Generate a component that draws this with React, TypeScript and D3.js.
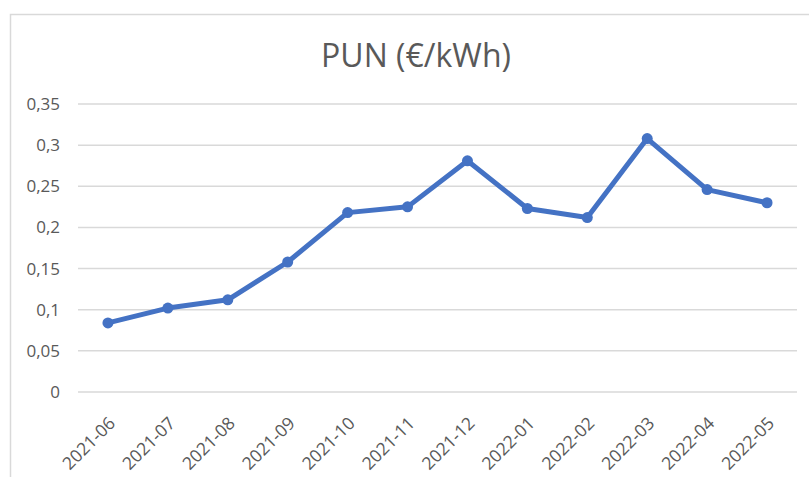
import React from "react";
import * as d3 from "d3";

const categories = ["2021-06","2021-07","2021-08","2021-09","2021-10","2021-11","2021-12","2022-01","2022-02","2022-03","2022-04","2022-05"];
const values = [0.084,0.102,0.112,0.158,0.218,0.225,0.281,0.223,0.212,0.308,0.246,0.230];
const yTicks = [0,0.05,0.1,0.15,0.2,0.25,0.3,0.35];
const title = "PUN (€/kWh)";

const W = 809, H = 477;
const left = 78, right = 797, top = 104, bottom = 392;
const color = "#4472C4";
const textColor = "#595959";
const font = "'Open Sans', sans-serif";

export default function App() {
  const x = d3.scaleBand<string>().domain(categories).range([left, right]);
  const y = d3.scaleLinear().domain([0, 0.35]).range([bottom, top]);
  const fmt = (v: number) => String(+v.toFixed(2)).replace(".", ",");
  const line = d3.line<number>()
    .x((_, i) => (x(categories[i]) as number) + x.bandwidth() / 2)
    .y(d => y(d));
  return (
    <svg width={W} height={H} style={{ position: "absolute", left: 0, top: 0, background: "#fff" }}>
      <rect x={0} y={0} width={W} height={H} fill="#fff" />
      <path d={`M10.5,${H} V14.5 H${W}`} fill="none" stroke="#d9d9d9" strokeWidth={1.5} />
      <text x={416} y={67} textAnchor="middle" fontFamily={font} fontSize={32} fill={textColor}>{title}</text>
      {yTicks.map(t => (
        <g key={t}>
          <line x1={left} x2={right} y1={y(t)} y2={y(t)} stroke="#d9d9d9" strokeWidth={1.5} />
          <text x={60} y={y(t)} dy="0.35em" textAnchor="end" fontFamily={font} fontSize={17} fill={textColor}>{fmt(t)}</text>
        </g>
      ))}
      {categories.map(c => {
        const cx = (x(c) as number) + x.bandwidth() / 2;
        return (
          <text key={c} transform={`translate(${cx + 4},${bottom + 28}) rotate(-45)`} textAnchor="end" dy="0.35em"
            fontFamily={font} fontSize={17.5} fill={textColor}>{c}</text>
        );
      })}
      <path d={line(values) || ""} fill="none" stroke={color} strokeWidth={5} strokeLinejoin="round" />
      {values.map((v, i) => (
        <circle key={i} cx={(x(categories[i]) as number) + x.bandwidth() / 2} cy={y(v)} r={5.5} fill={color} />
      ))}
    </svg>
  );
}
